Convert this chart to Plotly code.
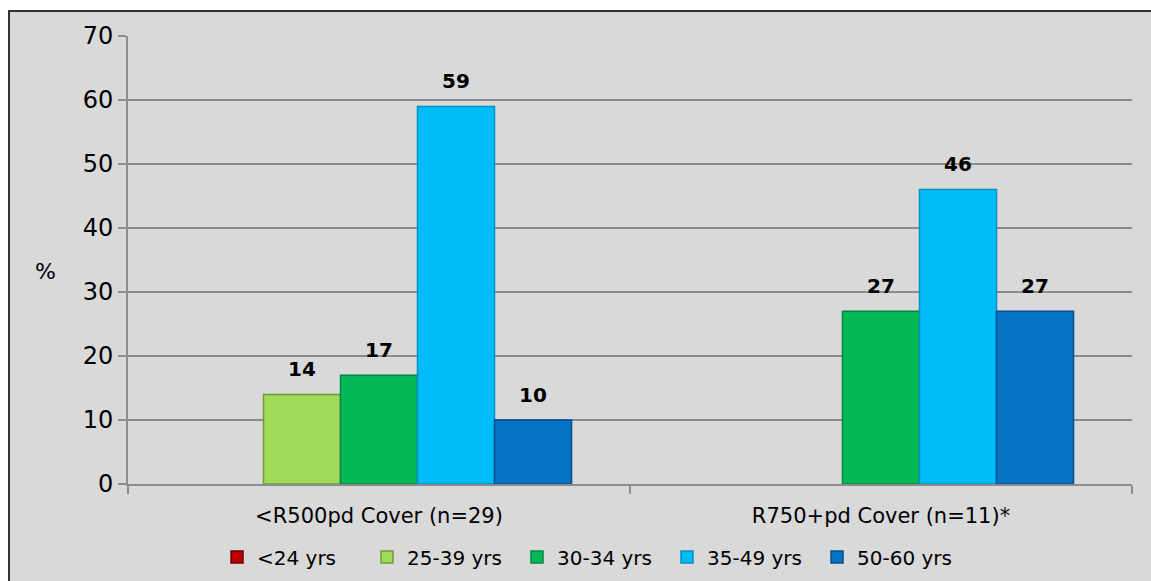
import plotly.graph_objects as go

categories = ["<R500pd Cover (n=29)", "R750+pd Cover (n=11)*"]
series_names = ["<24 yrs", "25-39 yrs", "30-34 yrs", "35-49 yrs", "50-60 yrs"]
v_lt24 = [0, 0]
v_25_39 = [14, 0]
v_30_34 = [17, 27]
v_35_49 = [59, 46]
v_50_60 = [10, 27]
y_ticks = [0, 10, 20, 30, 40, 50, 60, 70]

colors = ["#C00000", "#9FDA58", "#05B954", "#00BCF8", "#0473C6"]
edge_colors = ["#6B0000", "#6E9A3E", "#04844A", "#0690C0", "#034E8E"]
values = [v_lt24, v_25_39, v_30_34, v_35_49, v_50_60]

W, H = 1151, 581
L, R, T, B = 128, 19, 36, 97
pw, ph = W - L - R, H - T - B

def px(x):
    return (x - L) / pw

def py(y):
    return (H - B - y) / ph

fig = go.Figure()
for name, vals, c, ec in zip(series_names, values, colors, edge_colors):
    fig.add_trace(go.Bar(
        name=name, x=categories, y=[v if v else None for v in vals],
        marker=dict(color=c, line=dict(color=ec, width=1.5)),
    ))
for name, vals in zip(series_names, values):
    fig.add_trace(go.Scatter(
        name=name, x=categories, y=vals, mode="markers+text",
        marker=dict(size=20, opacity=0),
        text=[str(v) if v else "" for v in vals],
        textposition="top center",
        textfont=dict(family="DejaVu Sans", size=20, color="black", weight="bold"),
        showlegend=False, hoverinfo="skip", cliponaxis=False,
    ))

fig.update_layout(
    width=W, height=H,
    margin=dict(l=L, r=R, t=T, b=B, autoexpand=False),
    paper_bgcolor="white",
    plot_bgcolor="#D9D9D9",
    barmode="group",
    scattermode="group",
    bargap=0.233,
    scattergap=0.233,
    bargroupgap=0,
    font=dict(family="DejaVu Sans", color="black"),
    showlegend=True,
    legend=dict(orientation="h", x=px(592), xanchor="center", y=py(557), yanchor="middle",
                font=dict(size=20, family="DejaVu Sans", color="black"),
                entrywidth=105, entrywidthmode="pixels",
                bgcolor="rgba(0,0,0,0)", traceorder="normal"),
    shapes=[dict(type="rect", xref="paper", yref="paper",
                 x0=px(9), x1=px(1170), y0=py(600), y1=py(11),
                 fillcolor="#D9D9D9", line=dict(color="#333333", width=2), layer="below")],
    annotations=[dict(text="%", xref="paper", yref="paper", x=px(45), y=py(271),
                      xanchor="center", yanchor="middle",
                      showarrow=False, font=dict(size=22, family="DejaVu Sans", color="black"))],
)
fig.update_yaxes(range=[0, 70], tickvals=y_ticks, showgrid=True, gridcolor="#8C8C8C", gridwidth=2,
                 showline=True, linecolor="#8C8C8C", linewidth=2, ticks="outside", ticklen=8,
                 tickcolor="#8C8C8C", tickwidth=2, tickfont=dict(size=24), zeroline=False)
fig.update_xaxes(showline=True, linecolor="#8C8C8C", linewidth=2, ticks="outside", ticklen=8,
                 tickcolor="#8C8C8C", tickwidth=2, tickson="boundaries", tickfont=dict(size=21),
                 ticklabelstandoff=12)

fig.write_html("out.html")
